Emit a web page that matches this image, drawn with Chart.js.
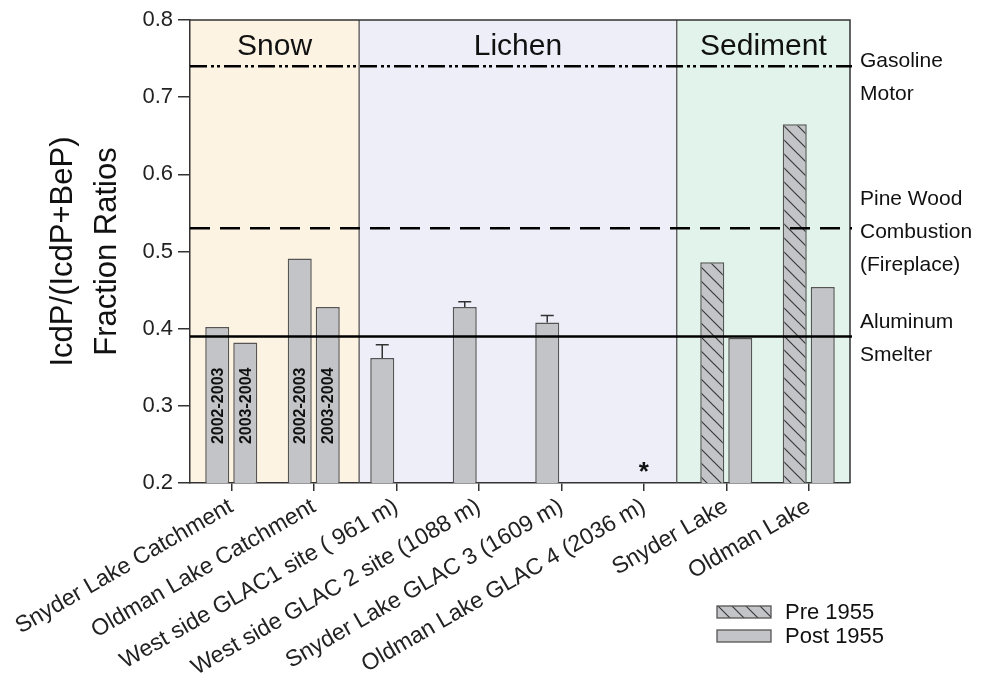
<!DOCTYPE html>
<html><head><meta charset="utf-8">
<script src="https://cdn.jsdelivr.net/npm/chart.js@4/dist/chart.umd.min.js"></script>
<style>html,body{margin:0;padding:0;background:#fff;overflow:hidden;}</style>
</head><body>
<canvas id="c" width="987" height="685"></canvas>
<script>
// ---------------- data ----------------
const categories = ['Snyder Lake Catchment','Oldman Lake Catchment','West side GLAC1 site ( 961 m)','West side GLAC 2 site (1088 m)','Snyder Lake GLAC 3 (1609 m)','Oldman Lake GLAC 4 (2036 m)','Snyder Lake','Oldman Lake'];
const firstBar    = [0.402, 0.491, 0.362, 0.428, 0.408, null, 0.486, 0.665];
const secondBar   = [0.382, 0.428, null,  null,  null,  null, 0.388, 0.454];
const firstBarErr = [null,  null,  0.017, 0.007, 0.009, null, null,  null];
const firstHatched = [false,false,false,false,false,false,true,true];
const firstBarText  = ['2002-2003','2002-2003',null,null,null,null,null,null];
const secondBarText = ['2003-2004','2003-2004',null,null,null,null,null,null];
const noDataMark = [null,null,null,null,null,'*',null,null];
const regionNames = ['Snow','Lichen','Sediment'];
const regionFrom  = [-0.5, 1.55, 5.4];
const regionTo    = [1.55, 5.4, 7.5];
const sourceValues = [0.74, 0.53, 0.39];
const sourceLabels = [['Gasoline','Motor'],['Pine Wood','Combustion','(Fireplace)'],['Aluminum','Smelter']];
const legendLabels = ['Pre 1955','Post 1955'];
const yMin = 0.2, yMax = 0.8, yStep = 0.1;
const yTitle = ['IcdP/(IcdP+BeP)','Fraction Ratios'];
const yearTextAt = 0.3;

// ---------------- styles ----------------
const FONT = "'Liberation Sans', Arial, Helvetica, sans-serif";
const BAR_GRAY = '#c2c4c7';
const BAR_EDGE = '#555555';
const REGION_COLORS = ['#fcf3e2','#eeeef9','#e1f3ea'];
const LINE_DASHES = [[17,4,3,3,3,4],[20,10],[]];
const LABEL_OFFSETS = [11, 4, 2.5];

function makeHatch(){
  const s = 14, cv = document.createElement('canvas');
  cv.width = s; cv.height = s;
  const g = cv.getContext('2d');
  g.fillStyle = BAR_GRAY; g.fillRect(0,0,s,s);
  g.strokeStyle = '#3a3a3a'; g.lineWidth = 1.2;
  g.beginPath();
  g.moveTo(-2,-2); g.lineTo(s+2,s+2);
  g.moveTo(-2, s-2); g.lineTo(2, s+2);
  g.moveTo(s-2,-2); g.lineTo(s+2,2);
  g.stroke();
  return g.createPattern(cv,'repeat');
}
const HATCH = makeHatch();

Chart.defaults.font.family = FONT;
Chart.defaults.color = '#222';

const decorPlugin = {
  id: 'decor',
  beforeDraw(chart){
    const {ctx, chartArea:a, scales:{x}} = chart;
    ctx.save();
    regionNames.forEach((n,i)=>{
      const x0 = x.getPixelForValue(regionFrom[i]);
      const x1 = x.getPixelForValue(regionTo[i]);
      ctx.fillStyle = REGION_COLORS[i];
      ctx.fillRect(x0, a.top, x1-x0, a.bottom-a.top);
    });
    ctx.restore();
  },
  afterDatasetsDraw(chart){
    const {ctx, chartArea:a, scales:{x,y}} = chart;
    ctx.save();
    // region dividers + frame
    ctx.strokeStyle = '#555'; ctx.lineWidth = 1.3;
    for (let i=1;i<regionNames.length;i++){
      const px = x.getPixelForValue(regionFrom[i]);
      ctx.beginPath(); ctx.moveTo(px,a.top); ctx.lineTo(px,a.bottom); ctx.stroke();
    }
    ctx.strokeStyle = '#333'; ctx.lineWidth = 1.5;
    ctx.beginPath(); ctx.moveTo(a.left,a.top); ctx.lineTo(a.right,a.top); ctx.lineTo(a.right,a.bottom); ctx.stroke();
    // region headers
    ctx.fillStyle = '#111'; ctx.font = '30px '+FONT; ctx.textAlign='center'; ctx.textBaseline='middle';
    regionNames.forEach((n,i)=>{
      const x0 = x.getPixelForValue(regionFrom[i]);
      const x1 = x.getPixelForValue(regionTo[i]);
      ctx.fillText(n,(x0+x1)/2, a.top+27);
    });
    // error bars
    const m0 = chart.getDatasetMeta(0);
    ctx.strokeStyle = '#333'; ctx.lineWidth = 1.5;
    firstBarErr.forEach((e,i)=>{
      if (e==null || firstBar[i]==null) return;
      const el = m0.data[i];
      const yt = y.getPixelForValue(firstBar[i]+e);
      ctx.beginPath(); ctx.moveTo(el.x, el.y); ctx.lineTo(el.x, yt);
      ctx.moveTo(el.x-6.5, yt); ctx.lineTo(el.x+6.5, yt); ctx.stroke();
    });
    // year texts inside bars
    const m1 = chart.getDatasetMeta(1);
    ctx.fillStyle = '#111'; ctx.font = 'bold 16px '+FONT; ctx.textAlign='center'; ctx.textBaseline='middle';
    [[m0,firstBarText],[m1,secondBarText]].forEach(([m,txt])=>{
      txt.forEach((t,i)=>{
        if (!t) return;
        const el = m.data[i];
        ctx.save(); ctx.translate(el.x, y.getPixelForValue(yearTextAt)); ctx.rotate(-Math.PI/2);
        ctx.fillText(t,0,1); ctx.restore();
      });
    });
    // no data mark
    ctx.font = 'bold 26px '+FONT; ctx.textBaseline='alphabetic'; ctx.textAlign='center';
    noDataMark.forEach((t,i)=>{ if (t) ctx.fillText(t, x.getPixelForValue(i), a.bottom-3); });
    // source lines
    ctx.strokeStyle = '#000'; ctx.lineWidth = 2.5;
    sourceValues.forEach((v,i)=>{
      const py = y.getPixelForValue(v);
      ctx.setLineDash(LINE_DASHES[i]);
      ctx.beginPath(); ctx.moveTo(a.left, py); ctx.lineTo(a.right+2, py); ctx.stroke();
    });
    ctx.setLineDash([]);
    // source labels
    ctx.fillStyle = '#111'; ctx.font = '21px '+FONT; ctx.textAlign='left'; ctx.textBaseline='middle';
    sourceLabels.forEach((lines,i)=>{
      const cy = y.getPixelForValue(sourceValues[i]) + LABEL_OFFSETS[i];
      const lh = 33, start = cy - (lines.length-1)*lh/2;
      lines.forEach((t,k)=> ctx.fillText(t, a.right+10, start + k*lh));
    });
    // legend
    const lx = a.right - 133, ly = a.bottom + 123;
    [HATCH, BAR_GRAY].forEach((f,k)=>{
      const by = ly + k*24;
      ctx.fillStyle = f; ctx.fillRect(lx, by, 54, 12);
      ctx.strokeStyle = BAR_EDGE; ctx.lineWidth = 1.3; ctx.strokeRect(lx, by, 54, 12);
      ctx.fillStyle = '#111'; ctx.font = '22px '+FONT; ctx.textAlign='left'; ctx.textBaseline='middle';
      ctx.fillText(legendLabels[k], lx+68, by+7);
    });
    ctx.restore();
  }
};

new Chart(document.getElementById('c'), {
  type: 'bar',
  data: {
    labels: categories,
    datasets: [
      { label: legendLabels[0], data: firstBar,
        backgroundColor: c => firstHatched[c.dataIndex] ? HATCH : BAR_GRAY,
        borderColor: BAR_EDGE, borderWidth: 1.5, barPercentage: 0.857, categoryPercentage: 0.679 },
      { label: legendLabels[1], data: secondBar,
        backgroundColor: BAR_GRAY,
        borderColor: BAR_EDGE, borderWidth: 1.5, barPercentage: 0.857, categoryPercentage: 0.679 }
    ]
  },
  options: {
    responsive: false, animation: false, devicePixelRatio: 1,
    layout: { padding: { top: 20, right: 137, left: 0, bottom: 0 } },
    plugins: { legend: { display: false }, tooltip: { enabled: false } },
    scales: {
      x: {
        offset: true,
        grid: { offset: false, drawOnChartArea: false, drawTicks: true, tickLength: 8, color: '#333', lineWidth: 1.5 },
        border: { display: true, color: '#333', width: 1.5 },
        ticks: { autoSkip: false, minRotation: 30, maxRotation: 30, padding: 2, color: '#222', font: { size: 23, family: FONT } },
        afterFit(s){ s.height = 202; s.paddingLeft = 0; s.paddingRight = 0; }
      },
      y: {
        min: yMin, max: yMax,
        grid: { drawOnChartArea: false, drawTicks: true, tickLength: 12, color: '#333', lineWidth: 1.5 },
        border: { display: true, color: '#333', width: 1.5 },
        ticks: { stepSize: yStep, padding: 5, color: '#222', font: { size: 22, family: FONT }, callback: v => Number(v).toFixed(1) },
        title: { display: true, text: yTitle, color: '#111', font: { size: 31, family: FONT, lineHeight: 1.42 }, padding: { top: 41, bottom: 0 } },
        afterFit(s){ s.width = 190; }
      }
    }
  },
  plugins: [decorPlugin]
});
</script>
</body></html>
